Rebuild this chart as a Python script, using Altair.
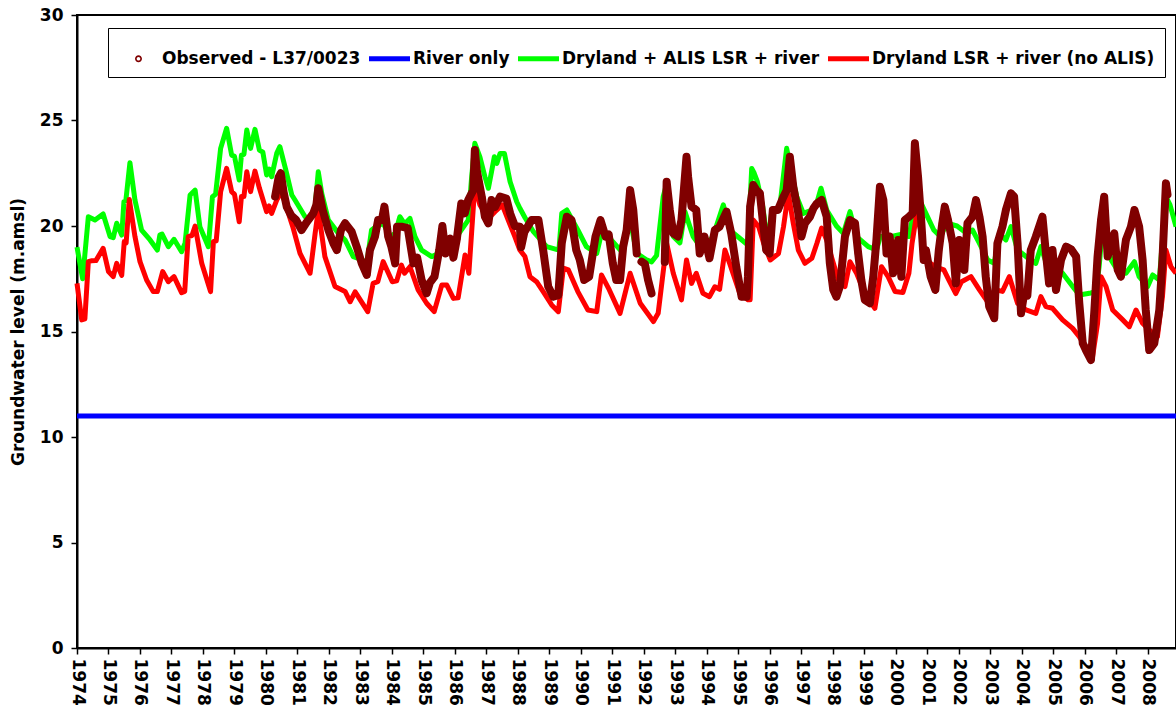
import altair as alt
import pandas as pd

S_OBS = "Observed - L37/0023"
S_RIV = "River only"
S_ALIS = "Dryland + ALIS LSR + river"
S_NO = "Dryland LSR + river (no ALIS)"
series_names = [S_OBS, S_RIV, S_ALIS, S_NO]
series_colors = ["#800000", "#0000FF", "#00FF00", "#FF0000"]

year_ticks = list(range(1974, 2009))
level_ticks = [0, 5, 10, 15, 20, 25, 30]

river_t = [1974.0, 2008.89]
river_v = [11.0, 11.0]

alis_t = [1974.00, 1974.18, 1974.36, 1974.57, 1974.83, 1975.05, 1975.15, 1975.26, 1975.42, 1975.49,
          1975.55, 1975.68, 1975.84, 1976.05, 1976.32, 1976.55, 1976.63, 1976.70, 1976.90, 1977.08,
          1977.32, 1977.43, 1977.59, 1977.75, 1977.90, 1978.17, 1978.30, 1978.40, 1978.56, 1978.75,
          1978.91, 1979.00, 1979.15, 1979.22, 1979.30, 1979.39, 1979.51, 1979.65, 1979.79, 1979.90,
          1980.02, 1980.10, 1980.18, 1980.34, 1980.44, 1980.63, 1980.82, 1980.92, 1981.24, 1981.40,
          1981.56, 1981.66, 1981.77, 1981.98, 1982.30, 1982.51, 1982.77, 1983.05, 1983.20, 1983.35,
          1983.50, 1983.72, 1983.94, 1984.10, 1984.25, 1984.40, 1984.57, 1984.73, 1984.94, 1985.26,
          1985.50, 1985.80, 1986.10, 1986.42, 1986.53, 1986.63, 1986.79, 1986.95, 1987.06, 1987.16,
          1987.25, 1987.33, 1987.43, 1987.57, 1987.75, 1987.96, 1988.06, 1988.22, 1988.49, 1988.91,
          1989.30, 1989.39, 1989.55, 1989.90, 1990.17, 1990.50, 1990.65, 1990.96, 1991.25, 1991.56,
          1991.77, 1992.08, 1992.24, 1992.40, 1992.61, 1992.72, 1992.93, 1993.14, 1993.30, 1993.56,
          1993.87, 1994.19, 1994.52, 1994.72, 1995.04, 1995.30, 1995.42, 1995.50, 1995.60, 1995.77,
          1995.93, 1996.05, 1996.30, 1996.53, 1996.63, 1996.85, 1997.06, 1997.33, 1997.45, 1997.62,
          1997.80, 1998.11, 1998.33, 1998.54, 1998.75, 1999.12, 1999.38, 1999.50, 1999.86, 2000.15,
          2000.41, 2000.60, 2000.80, 2000.95, 2001.20, 2001.41, 2001.62, 2001.94, 2002.25, 2002.43,
          2002.65, 2002.91, 2003.12, 2003.28, 2003.49, 2003.65, 2003.86, 2004.13, 2004.44, 2004.60,
          2004.81, 2005.08, 2005.29, 2005.61, 2005.82, 2006.14, 2006.35, 2006.45, 2006.56, 2006.67,
          2006.83, 2007.09, 2007.30, 2007.57, 2007.72, 2007.99, 2008.15, 2008.36, 2008.57, 2008.70,
          2008.89]
alis_v = [19.0, 17.5, 20.44, 20.28, 20.57, 19.5, 19.45, 20.13, 19.57, 21.15,
          21.2, 23.0, 21.23, 19.81, 19.34, 18.86, 19.57, 19.62, 19.02, 19.37,
          18.78, 19.18, 21.47, 21.7, 19.97, 19.02, 21.39, 21.5, 23.68, 24.63,
          23.36, 23.3, 22.18, 23.36, 23.4, 24.55, 23.68, 24.58, 23.6, 23.5,
          22.42, 22.7, 22.34, 23.44, 23.76, 22.65, 21.47, 21.23, 20.44, 20.3,
          20.92, 22.57, 21.55, 20.28, 19.65, 19.34, 18.55, 18.4, 18.23, 19.81,
          19.97, 20.13, 19.5, 19.65, 20.44, 20.1, 20.36, 19.5, 18.86, 18.55,
          18.7, 19.0, 19.6, 20.28, 22.34, 23.92, 23.28, 22.34, 21.79, 22.57,
          23.28, 22.97, 23.44, 23.44, 22.1, 21.15, 20.84, 20.4, 19.73, 19.02,
          18.86, 20.6, 20.76, 19.81, 19.02, 18.7, 19.65, 19.34, 18.86, 20.28,
          18.7, 18.4, 18.3, 18.6, 21.39, 22.0, 19.5, 19.2, 20.68, 19.5,
          18.86, 19.5, 21.0, 19.81, 19.42, 19.1, 22.73, 22.5, 22.1, 20.92,
          19.18, 20.6, 20.76, 23.68, 22.9, 21.39, 20.6, 20.76, 20.9, 21.79,
          20.76, 20.0, 19.65, 20.68, 19.5, 19.02, 18.86, 19.5, 19.5, 19.6,
          19.5, 20.92, 21.07, 20.6, 19.81, 19.5, 20.13, 20.0, 19.65, 19.81,
          19.18, 18.39, 18.23, 19.65, 19.34, 19.97, 18.86, 18.55, 18.23, 19.02,
          18.07, 18.07, 17.76, 17.13, 16.73, 16.81, 16.9, 18.07, 19.97, 19.5,
          18.39, 17.76, 17.76, 18.31, 17.6, 17.13, 17.68, 17.44, 21.39, 21.0,
          19.97]

noalis_t = [1974.00, 1974.15, 1974.25, 1974.36, 1974.45, 1974.60, 1974.83, 1975.00, 1975.15, 1975.26,
            1975.42, 1975.50, 1975.56, 1975.66, 1975.84, 1976.00, 1976.21, 1976.42, 1976.55, 1976.72,
            1976.90, 1977.08, 1977.32, 1977.42, 1977.53, 1977.65, 1977.75, 1977.96, 1978.24, 1978.33,
            1978.42, 1978.56, 1978.75, 1978.91, 1979.00, 1979.15, 1979.22, 1979.30, 1979.39, 1979.51,
            1979.65, 1979.79, 1980.02, 1980.10, 1980.18, 1980.34, 1980.50, 1980.66, 1980.85, 1981.08,
            1981.40, 1981.56, 1981.66, 1981.87, 1982.19, 1982.51, 1982.67, 1982.83, 1983.23, 1983.40,
            1983.55, 1983.72, 1984.01, 1984.15, 1984.30, 1984.40, 1984.57, 1984.83, 1985.10, 1985.34,
            1985.58, 1985.74, 1985.95, 1986.10, 1986.32, 1986.44, 1986.63, 1986.79, 1987.06, 1987.27,
            1987.50, 1987.69, 1987.90, 1988.06, 1988.22, 1988.38, 1988.59, 1988.80, 1989.07, 1989.28,
            1989.44, 1989.60, 1989.90, 1990.22, 1990.50, 1990.65, 1990.90, 1991.24, 1991.56, 1991.88,
            1992.30, 1992.45, 1992.72, 1992.93, 1993.19, 1993.35, 1993.51, 1993.66, 1993.87, 1994.08,
            1994.25, 1994.40, 1994.57, 1994.72, 1995.04, 1995.30, 1995.37, 1995.47, 1995.64, 1995.80,
            1996.01, 1996.27, 1996.43, 1996.58, 1996.74, 1996.90, 1997.11, 1997.33, 1997.49, 1997.64,
            1997.80, 1997.95, 1998.17, 1998.38, 1998.54, 1998.75, 1999.01, 1999.33, 1999.54, 1999.75,
            1999.97, 2000.22, 2000.41, 2000.51, 2000.66, 2000.80, 2000.95, 2001.25, 2001.52, 2001.68,
            2001.90, 2002.08, 2002.38, 2002.65, 2002.91, 2003.17, 2003.38, 2003.60, 2003.86, 2004.13,
            2004.44, 2004.60, 2004.76, 2004.97, 2005.29, 2005.61, 2005.82, 2006.03, 2006.24, 2006.40,
            2006.51, 2006.67, 2006.88, 2007.20, 2007.41, 2007.62, 2007.83, 2008.04, 2008.30, 2008.46,
            2008.57, 2008.73, 2008.89]
noalis_v = [17.28, 15.55, 15.6, 18.31, 18.35, 18.36, 18.94, 17.84, 17.6, 18.23,
            17.66, 19.26, 19.2, 21.26, 19.5, 18.31, 17.44, 16.89, 16.89, 17.84,
            17.36, 17.6, 16.84, 16.9, 19.5, 19.55, 20.0, 18.23, 16.89, 19.26,
            19.3, 21.63, 22.73, 21.63, 21.5, 20.2, 21.4, 21.4, 22.57, 21.63,
            22.6, 21.8, 20.68, 20.95, 20.6, 21.23, 21.63, 20.84, 19.97, 18.7,
            17.76, 19.65, 20.76, 18.55, 17.13, 16.9, 16.41, 16.88, 15.94, 17.28,
            17.36, 18.31, 17.36, 17.4, 18.15, 17.76, 18.07, 16.97, 16.34, 15.94,
            17.2, 17.2, 16.57, 16.6, 18.63, 17.76, 21.94, 21.0, 20.36, 20.68,
            21.0, 20.28, 19.5, 18.86, 18.55, 17.6, 17.36, 16.89, 16.26, 15.94,
            18.0, 17.92, 16.89, 16.02, 15.94, 17.68, 16.97, 15.86, 17.76, 16.34,
            15.47, 15.86, 19.18, 17.76, 16.5, 18.39, 17.28, 17.76, 16.81, 16.65,
            17.12, 17.0, 18.86, 18.23, 16.81, 16.5, 16.5, 20.28, 19.97, 19.18,
            18.39, 18.7, 19.97, 21.55, 20.13, 18.86, 18.23, 18.47, 19.18, 19.9,
            19.34, 18.55, 17.44, 17.13, 18.31, 17.76, 16.81, 16.1, 18.07, 17.6,
            16.9, 16.85, 17.76, 19.18, 20.6, 19.7, 18.39, 18.07, 17.92, 17.44,
            16.8, 17.36, 17.6, 16.97, 16.41, 16.97, 16.9, 17.6, 16.34, 16.02,
            15.86, 16.65, 16.18, 16.1, 15.55, 15.15, 14.75, 14.28, 13.8, 15.39,
            17.6, 17.13, 16.02, 15.55, 15.23, 16.02, 15.39, 15.07, 14.75, 16.65,
            18.86, 18.07, 17.76]

obs_t = [1980.29, 1980.40, 1980.47, 1980.56, 1980.66, 1980.80, 1980.95, 1981.13, 1981.30, 1981.50,
         1981.60, 1981.66, 1981.80, 1981.98, 1982.14, 1982.25, 1982.38, 1982.51, 1982.72, 1982.88,
         1983.04, 1983.20, 1983.30, 1983.46, 1983.56, 1983.68, 1983.76, 1983.88, 1983.98, 1984.10,
         1984.16, 1984.30, 1984.50, 1984.68, 1984.80, 1984.94, 1985.10, 1985.20, 1985.35, 1985.50,
         1985.60, 1985.70, 1985.85, 1985.95, 1986.06, 1986.20, 1986.31, 1986.42, 1986.58, 1986.63,
         1986.69, 1986.85, 1986.95, 1987.06, 1987.16, 1987.27, 1987.43, 1987.63, 1987.75, 1987.90,
         1988.06, 1988.10, 1988.20, 1988.43, 1988.65, 1988.80, 1988.96, 1989.12, 1989.28, 1989.39,
         1989.55, 1989.70, 1989.85, 1989.96, 1990.10, 1990.26, 1990.46, 1990.62, 1990.78, 1990.88,
         1991.01, 1991.12, 1991.24, 1991.34, 1991.45, 1991.56, 1991.66, 1991.77,
         1991.92, 1992.03, 1992.13, 1992.24,
         1992.66, 1992.72, 1992.82, 1992.93, 1993.08, 1993.19, 1993.35, 1993.40, 1993.51, 1993.66,
         1993.77, 1993.92, 1994.08, 1994.25, 1994.40, 1994.62, 1994.77, 1994.93, 1995.10, 1995.26,
         1995.30, 1995.37, 1995.47, 1995.57, 1995.68, 1995.78, 1995.88, 1995.99, 1996.09, 1996.25,
         1996.43, 1996.53, 1996.63, 1996.74, 1996.90, 1997.00, 1997.11, 1997.27, 1997.38, 1997.49,
         1997.64, 1997.80, 1997.90, 1998.01, 1998.11, 1998.22, 1998.38, 1998.54, 1998.70, 1998.80,
         1998.90, 1999.01, 1999.17, 1999.28, 1999.38, 1999.49, 1999.60, 1999.70, 1999.80, 1999.91,
         2000.07, 2000.17, 2000.28, 2000.41, 2000.53, 2000.60, 2000.70, 2000.80, 2000.88, 2000.95,
         2001.10, 2001.25, 2001.36, 2001.47, 2001.55, 2001.65, 2001.80, 2001.90, 2002.01, 2002.17,
         2002.27, 2002.43, 2002.54, 2002.65, 2002.75, 2002.85, 2002.96, 2003.12, 2003.22, 2003.38,
         2003.49, 2003.65, 2003.75, 2003.86, 2003.97, 2004.07, 2004.17, 2004.28, 2004.44, 2004.65,
         2004.75, 2004.86, 2004.97, 2005.08, 2005.24, 2005.40, 2005.56, 2005.72, 2005.82, 2005.93,
         2006.03, 2006.19, 2006.30, 2006.40, 2006.51, 2006.61, 2006.72, 2006.83, 2006.93, 2007.04,
         2007.14, 2007.30, 2007.46, 2007.57, 2007.72, 2007.83, 2007.93, 2008.04, 2008.20, 2008.36,
         2008.46, 2008.57, 2008.62]
obs_v = [21.4, 22.3, 22.5, 21.6, 20.9, 20.5, 20.3, 19.81, 20.2, 20.6,
         21.0, 21.79, 20.76, 19.81, 19.18, 18.86, 19.81, 20.13, 19.73, 19.02,
         18.23, 17.68, 18.86, 19.5, 20.28, 20.28, 20.92, 19.5, 19.02, 18.23,
         19.97, 19.97, 19.9, 18.23, 18.5, 17.44, 16.81, 17.3, 17.6, 18.86,
         20.0, 18.7, 19.4, 18.5, 19.4, 21.07, 20.6, 21.23, 21.7, 23.6,
         22.65, 21.39, 20.44, 20.13, 21.23, 20.9, 21.39, 21.3, 20.6, 20.0,
         19.97, 19.0, 19.7, 20.28, 20.28, 18.86, 17.13, 16.65, 16.72, 19.2,
         20.44, 20.28, 18.86, 18.4, 17.44, 17.6, 19.5, 20.28, 19.5, 19.6,
         18.23, 17.44, 17.44, 19.02, 19.81, 21.7, 20.76, 18.7,
         18.31, 18.2, 17.44, 16.81,
         18.3, 22.1, 20.76, 19.65, 19.5, 20.28, 23.28, 22.34, 20.92, 20.76,
         18.7, 19.5, 18.47, 19.81, 19.97, 20.68, 19.65, 18.07, 16.65, 16.65,
         17.6, 20.92, 21.94, 21.7, 21.55, 20.13, 18.86, 18.7, 20.76, 20.76,
         21.39, 21.7, 23.28, 21.86, 20.6, 19.5, 20.13, 20.44, 20.84, 21.07,
         21.23, 20.44, 18.23, 16.97, 16.65, 17.13, 19.5, 20.28, 20.13, 18.7,
         17.44, 16.5, 16.34, 17.6, 19.34, 21.86, 21.23, 18.7, 19.5, 17.76,
         19.34, 17.6, 20.28, 20.44, 20.6, 23.92, 22.34, 20.28, 18.39, 18.86,
         17.6, 16.97, 18.86, 20.13, 20.92, 20.3, 19.18, 17.28, 19.34, 17.92,
         20.13, 20.44, 21.23, 20.44, 19.5, 17.6, 16.18, 15.63, 19.18, 19.97,
         20.76, 21.55, 21.4, 19.18, 15.86, 16.81, 16.7, 18.86, 19.5, 20.44,
         18.86, 17.28, 18.86, 16.97, 18.39, 19.02, 18.9, 18.55, 16.34, 14.44,
         14.12, 13.65, 16.02, 18.55, 20.28, 21.39, 18.55, 19.18, 19.65, 17.92,
         17.6, 19.34, 19.97, 20.76, 19.97, 18.39, 16.02, 14.12, 14.44, 16.02,
         18.39, 22.02, 21.5]
obs_seg = [0] * 88 + [1] * 4 + [2] * (len(obs_t) - 92)

model_df = pd.concat([
    pd.DataFrame({"t": river_t, "v": river_v, "series": S_RIV}),
    pd.DataFrame({"t": alis_t, "v": alis_v, "series": S_ALIS}),
    pd.DataFrame({"t": noalis_t, "v": noalis_v, "series": S_NO}),
], ignore_index=True)
obs_df = pd.DataFrame({"t": obs_t, "v": obs_v, "seg": obs_seg, "series": S_OBS})

FONT = "DejaVu Sans"
FS = 17

# legend/marker shapes in the [-1, 1] box: an open ring (marker) and a thick bar (line sample)
RING = ("M0.17,0A0.17,0.17,0,1,1,-0.17,0A0.17,0.17,0,1,1,0.17,0Z"
        "M0.09,0A0.09,0.09,0,1,0,-0.09,0A0.09,0.09,0,1,0,0.09,0Z")
BAR = "M-1,-0.125L1,-0.125L1,0.125L-1,0.125Z"
SYM = 1681

legend = alt.Legend(
    title=None, orient="none", legendX=31, legendY=13, direction="horizontal",
    symbolSize=SYM, symbolStrokeWidth=0,
    labelFont=FONT, labelFontSize=FS, labelFontWeight="bold", labelColor="black",
    labelOffset=3, labelLimit=500, columnPadding=8, padding=10,
    strokeColor="black", fillColor="white",
)

x = alt.X("t:Q", scale=alt.Scale(domain=[1974, 2008.89], nice=False, zero=False),
          axis=alt.Axis(values=year_ticks, format="d", labelAngle=90, title=None, grid=False,
                        tickSize=6, tickColor="black", tickWidth=1.5, domainColor="black", domainWidth=2,
                        labelFont=FONT, labelFontSize=FS, labelFontWeight="bold", labelColor="black",
                        labelPadding=4, labelOverlap=False, labelFlush=False))
y = alt.Y("v:Q", scale=alt.Scale(domain=[0, 30], nice=False),
          axis=alt.Axis(values=level_ticks, title="Groundwater level (m.amsl)", grid=False,
                        tickSize=6, tickColor="black", tickWidth=1.5, domainColor="black", domainWidth=2,
                        labelFont=FONT, labelFontSize=FS, labelFontWeight="bold", labelColor="black",
                        labelPadding=8, titleFont=FONT, titleFontSize=FS, titleFontWeight="bold",
                        titleColor="black", titlePadding=12))

models = alt.Chart(model_df).mark_line(strokeWidth=5, strokeJoin="round").encode(
    x=x, y=y,
    color=alt.Color("series:N", scale=alt.Scale(domain=series_names, range=series_colors), legend=None),
    detail="series:N")
observed = alt.Chart(obs_df).mark_line(strokeWidth=8, strokeJoin="round", strokeCap="round").encode(
    x=x, y=y,
    color=alt.Color("series:N", scale=alt.Scale(domain=series_names, range=series_colors), legend=None),
    detail="seg:N")
markers = alt.Chart(obs_df).mark_point(filled=True, size=SYM, strokeWidth=0, opacity=1).encode(
    x=x, y=y,
    color=alt.Color("series:N", scale=alt.Scale(domain=series_names, range=series_colors), legend=legend),
    shape=alt.Shape("series:N", scale=alt.Scale(domain=series_names, range=[RING, BAR, BAR, BAR]),
                    legend=legend),
)

chart = alt.layer(models, observed, markers).resolve_scale(
    color="independent", shape="independent"
).properties(
    width=1099, height=633,
    padding={"left": 77, "top": 15, "right": 0, "bottom": 63},
    autosize=alt.AutoSizeParams(type="none"),
    background="white",
).configure_view(stroke="black", strokeWidth=2)

chart.save("out.html", embed_options={"renderer": "svg", "actions": False})
